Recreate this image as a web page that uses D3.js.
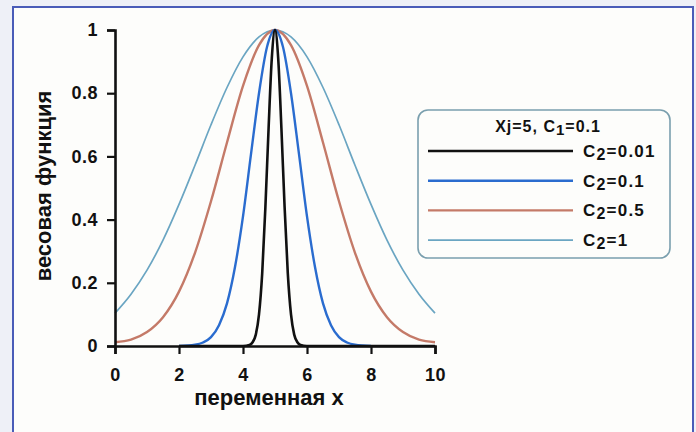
<!DOCTYPE html>
<html>
<head>
<meta charset="utf-8">
<script src="https://cdn.jsdelivr.net/npm/d3@7"></script>
<style>
  body { margin: 0; background: #eef0f7; }
  svg { display: block; }
  text { font-family: "Liberation Sans", Arial, sans-serif; font-weight: bold; fill: #111; }
</style>
</head>
<body>
<div id="chart"></div>
<script>
// values
const xTicks = [0, 2, 4, 6, 8, 10];
const yTicks = [0, 0.2, 0.4, 0.6, 0.8, 1];

const blackX = [2, 4, 4.2, 4.3, 4.4, 4.5, 4.6, 4.7, 4.8, 4.9, 5, 5.1, 5.2, 5.3, 5.4, 5.5, 5.6, 5.7, 5.8, 6, 10];
const blackY = [0, 0, 0.003, 0.012, 0.036, 0.1, 0.23, 0.44, 0.69, 0.91, 1, 0.91, 0.69, 0.44, 0.23, 0.1, 0.036, 0.012, 0.003, 0, 0];

const blueX = [2, 2.5, 2.75, 3, 3.25, 3.5, 3.75, 4, 4.25, 4.5, 4.75, 5, 5.25, 5.5, 5.75, 6, 6.25, 6.5, 6.75, 7, 7.25, 7.5, 8];
const blueY = [0, 0.004, 0.011, 0.028, 0.066, 0.135, 0.25, 0.41, 0.607, 0.8, 0.946, 1, 0.946, 0.8, 0.607, 0.41, 0.25, 0.135, 0.066, 0.028, 0.011, 0.004, 0];

const redX = [0, 0.5, 1, 1.5, 2, 2.5, 3, 3.5, 4, 4.5, 5, 5.5, 6, 6.5, 7, 7.5, 8, 8.5, 9, 9.5, 10];
const redY = [0.012, 0.02, 0.044, 0.091, 0.172, 0.295, 0.458, 0.644, 0.823, 0.952, 1, 0.952, 0.823, 0.644, 0.458, 0.295, 0.172, 0.091, 0.044, 0.02, 0.012];

const lightX = [0, 0.5, 1, 1.5, 2, 2.5, 3, 3.5, 4, 4.5, 5, 5.5, 6, 6.5, 7, 7.5, 8, 8.5, 9, 9.5, 10];
const lightY = [0.104, 0.164, 0.24, 0.335, 0.448, 0.572, 0.70, 0.818, 0.915, 0.978, 1, 0.978, 0.915, 0.818, 0.70, 0.572, 0.448, 0.335, 0.24, 0.164, 0.104];

const seriesNames = ["0.01", "0.1", "0.5", "1"];
const seriesColors = ["#111111", "#2a6ccf", "#c47a68", "#6aa5c2"];
const seriesWidths = [2.6, 2.4, 2.4, 1.7];
const seriesX = [blackX, blueX, redX, lightX];
const seriesY = [blackY, blueY, redY, lightY];

const width = 696, height = 432;
const svg = d3.select("#chart").append("svg")
    .attr("width", width)
    .attr("height", height);

// panel
svg.append("rect")
    .attr("x", 13).attr("y", 7)
    .attr("width", 680).attr("height", 440)
    .attr("fill", "#fdfdfb")
    .attr("stroke", "#4a5cb8")
    .attr("stroke-width", 2);

const x = d3.scaleLinear().domain([0, 10]).range([115, 435]);
const y = d3.scaleLinear().domain([0, 1]).range([346, 30]);

const line = d3.line()
    .x(d => x(d[0]))
    .y(d => y(d[1]))
    .curve(d3.curveMonotoneX);

// curves, wide to narrow
for (let i = 3; i >= 0; i--) {
    const pts = seriesX[i].map((v, j) => [v, seriesY[i][j]]);
    svg.append("path")
        .datum(pts)
        .attr("fill", "none")
        .attr("stroke", seriesColors[i])
        .attr("stroke-width", seriesWidths[i])
        .attr("d", line);
}

// axes
const xAxis = svg.append("g")
    .attr("transform", `translate(0,${y(0)})`)
    .call(d3.axisBottom(x).tickValues(xTicks).tickFormat(d3.format("d")).tickSizeOuter(0).tickSize(8).tickPadding(14));
const yAxis = svg.append("g")
    .attr("transform", `translate(${x(0)},0)`)
    .call(d3.axisLeft(y).tickValues(yTicks).tickFormat(d => d === 0 || d === 1 ? d : d3.format(".1f")(d)).tickSizeOuter(0).tickSize(8).tickPadding(9));

[xAxis, yAxis].forEach(g => {
    g.select(".domain").attr("stroke", "#111").attr("stroke-width", 2.6);
    g.selectAll(".tick line").attr("stroke", "#111").attr("stroke-width", 2.2);
    g.selectAll(".tick text")
        .style("font-size", "18px")
        .style("font-weight", "bold")
        .style("letter-spacing", "0.5px")
        .attr("fill", "#1a1a1a");
});

// axis titles
svg.append("text")
    .attr("x", 269).attr("y", 405)
    .attr("text-anchor", "middle")
    .style("font-size", "22px")
    .text("переменная x");

svg.append("text")
    .attr("transform", "translate(51,186) rotate(-90)")
    .attr("text-anchor", "middle")
    .style("font-size", "22px")
    .text("весовая функция");

// legend
const lg = svg.append("g");
lg.append("rect")
    .attr("x", 418).attr("y", 110)
    .attr("width", 252).attr("height", 148)
    .attr("rx", 10)
    .attr("fill", "#fdfdfb")
    .attr("stroke", "#7a9fae")
    .attr("stroke-width", 1.6);

const title = lg.append("text")
    .attr("x", 548).attr("y", 132)
    .attr("text-anchor", "middle")
    .style("font-size", "16px")
    .style("letter-spacing", "1px");
title.append("tspan").text("Xj=5, C");
title.append("tspan").attr("dy", 3).style("font-size", "15px").text("1");
title.append("tspan").attr("dy", -3).text("=0.1");

seriesNames.forEach((name, i) => {
    const ly = 151 + i * 29.7;
    lg.append("line")
        .attr("x1", 428).attr("x2", 573)
        .attr("y1", ly).attr("y2", ly)
        .attr("stroke", seriesColors[i])
        .attr("stroke-width", seriesWidths[i]);
    const t = lg.append("text")
        .attr("x", 583).attr("y", ly + 6)
        .style("font-size", "17px")
        .style("letter-spacing", "1.2px");
    t.append("tspan").text("C");
    t.append("tspan").attr("dy", 3).style("font-size", "16px").text("2");
    t.append("tspan").attr("dy", -3).text("=" + name);
});
</script>
</body>
</html>
